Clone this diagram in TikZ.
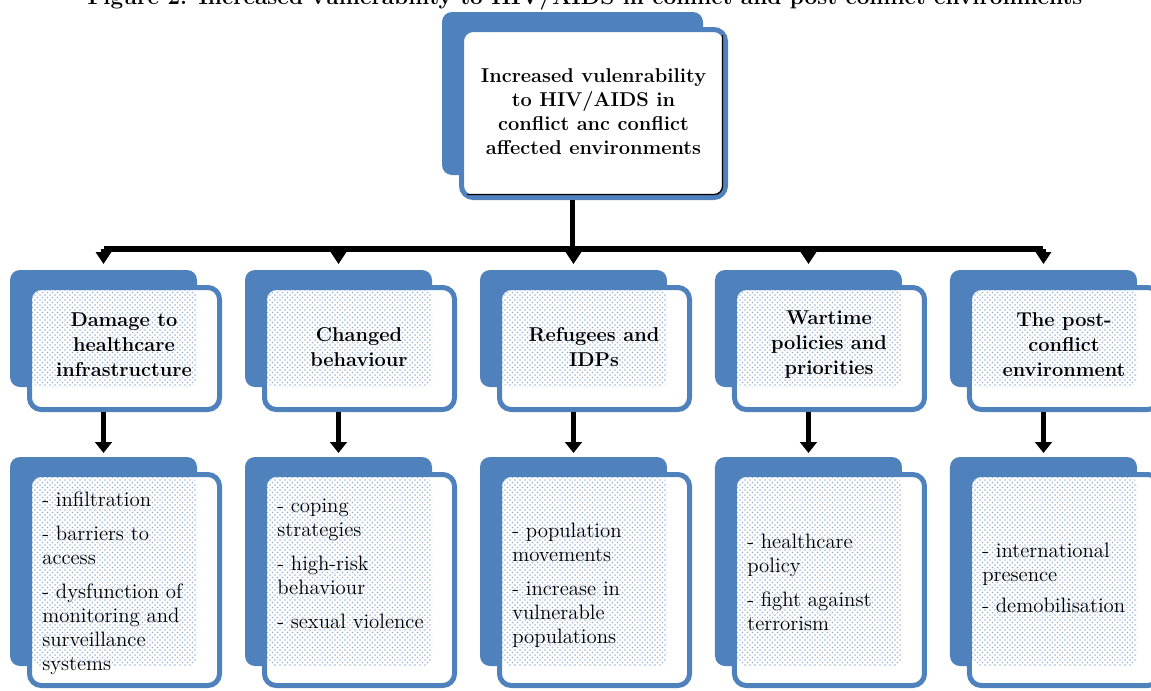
\documentclass[tikz,border=0pt]{standalone}
\usepackage{tikz}
\usetikzlibrary{arrows.meta,positioning,patterns}
\definecolor{hblue}{HTML}{4F81BD}

\begin{document}
\begin{tikzpicture}[
    x=0.6pt,y=-0.6pt,
    node distance=28.8pt,
    back/.style={rectangle,rounded corners=6pt,fill=hblue,outer sep=0pt,minimum width=112.2pt,minimum height=70.2pt},
    front/.style={rectangle,rounded corners=7pt,draw=hblue,line width=3pt,fill=white,minimum width=114pt,minimum height=73.2pt},
    dots/.style={rectangle,rounded corners=5pt,pattern=crosshatch dots,pattern color=hblue!60,minimum width=99pt,minimum height=58.2pt,inner sep=0pt},
    heading/.style={align=center,font=\fontsize{12}{15}\selectfont\bfseries,inner sep=0pt},
    items/.style={align=left,font=\fontsize{12.5}{14.4}\selectfont,inner sep=0pt,anchor=west},
    bar/.style={line width=3.4pt},
    drop/.style={-{Triangle[length=7.2pt,width=9pt]},line width=3.4pt,shorten >=3.6pt},
    arrow/.style={-{Triangle[length=6.6pt,width=10pt]},line width=3pt,shorten >=2.4pt}
]
\useasboundingbox (0,0) rectangle (1151,690);
\clip (0,0) rectangle (1151,690);

% Title (cut by the page edge)
\node[font=\fontsize{13.5}{16}\selectfont\bfseries,anchor=base] (title) at (585,4.5) {Figure 2. Increased vulnerability to HIV/AIDS in conflict and post-conflict environments};

% Main box
\node[back,minimum width=156.6pt,minimum height=97.8pt] (tb) at (572.5,93.5) {};
\node[front,minimum width=158.4pt,minimum height=100.8pt] (tw) at (593.5,113.5) {};
\draw[line width=0.8pt,rounded corners=5pt] ([shift={(-5.5,8)}]tw.north east) -- ([shift={(-5.5,-5.5)}]tw.south east) -- ([shift={(8,-5.5)}]tw.south west);
\node[heading,font=\fontsize{12}{14.4}\selectfont\bfseries] (tt) at (593.5,112) {Increased vulenrability\\to HIV/AIDS in\\conflict anc conflict\\affected environments};

% Headings
\node[back] (hb1) at (103.5,328.5) {};
\node[back,right=of hb1] (hb2) {};
\node[back,right=of hb2] (hb3) {};
\node[back,right=of hb3] (hb4) {};
\node[back,right=of hb4] (hb5) {};

\node[front] (hw1) at ([shift={(21,20)}]hb1.center) {};
\node[front] (hw2) at ([shift={(21,20)}]hb2.center) {};
\node[front] (hw3) at ([shift={(21,20)}]hb3.center) {};
\node[front] (hw4) at ([shift={(21,20)}]hb4.center) {};
\node[front] (hw5) at ([shift={(21,20)}]hb5.center) {};

\node[dots] (hd1) at ([shift={(11,10)}]hb1.center) {};
\node[dots] (hd2) at ([shift={(11,10)}]hb2.center) {};
\node[dots] (hd3) at ([shift={(11,10)}]hb3.center) {};
\node[dots] (hd4) at ([shift={(11,10)}]hb4.center) {};
\node[dots] (hd5) at ([shift={(11,10)}]hb5.center) {};

\node[heading] (ht1) at ([shift={(20.5,16.5)}]hb1.center) {Damage to\\healthcare\\infrastructure};
\node[heading] (ht2) at ([shift={(20.5,18.5)}]hb2.center) {Changed\\behaviour};
\node[heading] (ht3) at ([shift={(20.5,18.5)}]hb3.center) {Refugees and\\IDPs};
\node[heading] (ht4) at ([shift={(20.5,16.5)}]hb4.center) {Wartime\\policies and\\priorities};
\node[heading] (ht5) at ([shift={(20.5,16.5)}]hb5.center) {The post-\\conflict\\environment};

% Lists
\node[back,minimum height=125.4pt,below=42pt of hb1] (lb1) {};
\node[back,minimum height=125.4pt,below=42pt of hb2] (lb2) {};
\node[back,minimum height=125.4pt,below=42pt of hb3] (lb3) {};
\node[back,minimum height=125.4pt,below=42pt of hb4] (lb4) {};
\node[back,minimum height=125.4pt,below=42pt of hb5] (lb5) {};

\node[front,minimum height=126.6pt] (lw1) at ([shift={(21,18.5)}]lb1.center) {};
\node[front,minimum height=126.6pt] (lw2) at ([shift={(21,18.5)}]lb2.center) {};
\node[front,minimum height=126.6pt] (lw3) at ([shift={(21,18.5)}]lb3.center) {};
\node[front,minimum height=126.6pt] (lw4) at ([shift={(21,18.5)}]lb4.center) {};
\node[front,minimum height=126.6pt] (lw5) at ([shift={(21,18.5)}]lb5.center) {};

\node[dots,minimum height=113.4pt] (ld1) at ([shift={(11,10)}]lb1.center) {};
\node[dots,minimum height=113.4pt] (ld2) at ([shift={(11,10)}]lb2.center) {};
\node[dots,minimum height=113.4pt] (ld3) at ([shift={(11,10)}]lb3.center) {};
\node[dots,minimum height=113.4pt] (ld4) at ([shift={(11,10)}]lb4.center) {};
\node[dots,minimum height=113.4pt] (ld5) at ([shift={(11,10)}]lb5.center) {};

\node[items] (lt1) at ([shift={(-61.5,21.5)}]lb1.center) {- infiltration\\[6pt]- barriers to\\access\\[6pt]- dysfunction of\\monitoring and\\surveillance\\systems};
\node[items] (lt2) at ([shift={(-61.5,2.5)}]lb2.center) {- coping\\strategies\\[6pt]- high-risk\\behaviour\\[6pt]- sexual violence};
\node[items] (lt3) at ([shift={(-61.5,23.5)}]lb3.center) {- population\\movements\\[6pt]- increase in\\vulnerable\\populations};
\node[items] (lt4) at ([shift={(-61.5,20.5)}]lb4.center) {- healthcare\\policy\\[6pt]- fight against\\terrorism};
\node[items] (lt5) at ([shift={(-61.5,16.5)}]lb5.center) {- international\\presence\\[4pt]- demobilisation};

% Connectors
\coordinate (bus) at (572.5,249);
\draw[bar] (tw.south -| tb.south) -- (bus);
\draw[bar] (bus -| hb1.north) -- (bus -| hb5.north);
\draw[drop] (bus -| hb1.north) -- (hb1.north);
\draw[drop] (bus -| hb2.north) -- (hb2.north);
\draw[drop] (bus -| hb3.north) -- (hb3.north);
\draw[drop] (bus -| hb4.north) -- (hb4.north);
\draw[drop] (bus -| hb5.north) -- (hb5.north);

\draw[arrow] (hw1.south -| hb1.south) -- (lb1.north);
\draw[arrow] (hw2.south -| hb2.south) -- (lb2.north);
\draw[arrow] (hw3.south -| hb3.south) -- (lb3.north);
\draw[arrow] (hw4.south -| hb4.south) -- (lb4.north);
\draw[arrow] (hw5.south -| hb5.south) -- (lb5.north);

\end{tikzpicture}
\end{document}
